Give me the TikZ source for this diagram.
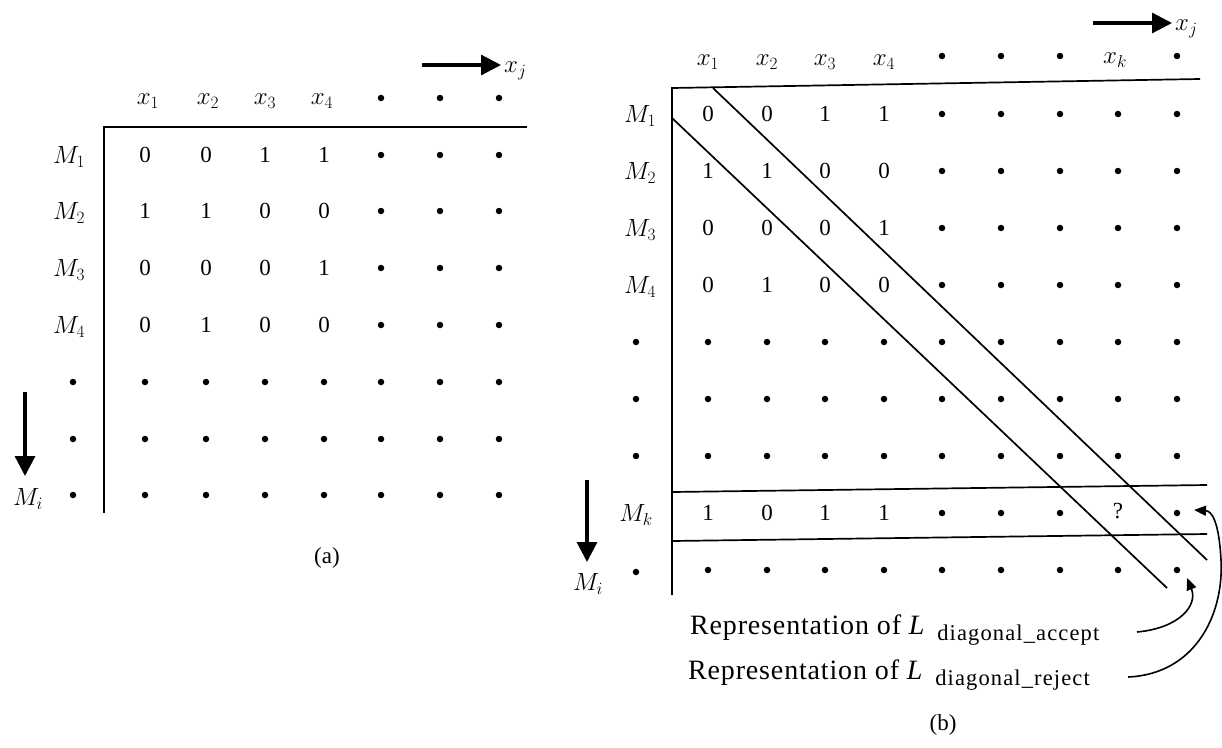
\documentclass[tikz,border=0pt]{standalone}
\usepackage{fontspec}
\setmainfont{Liberation Serif}
\usetikzlibrary{arrows.meta}
\begin{document}
\begin{tikzpicture}[x=1pt,y=-1pt,
  txt/.style={font=\fontsize{23}{26}\selectfont, inner sep=0pt},
  lbl/.style={font=\fontsize{28}{30}\selectfont\addfontfeature{LetterSpace=3}, inner sep=0pt, anchor=west},
  dot/.style={circle, fill=black, inner sep=0pt, minimum size=6.5pt},
  frameA/.style={line width=2.6pt},
  frameB/.style={line width=1.7pt},
  bigarrow/.style={line width=3.2pt, -{Triangle[length=20pt,width=20pt]}},
  curvearrow/.style={line width=1.6pt, -{Triangle[length=12pt,width=10pt]}},
]
\useasboundingbox (0,0) rectangle (1222,747);

% ---------------- panel (a) ----------------
\foreach \i/\x in {1/148,2/208,3/265,4/322} \node[txt] (ah\i) at (\x,101) {$x_{\i}$};
\foreach \x [count=\k from 5] in {381,440,499} \node[dot] (ah\k) at (\x,98) {};

\foreach \y/\a/\b/\c/\d [count=\r] in {155/0/0/1/1, 211/1/1/0/0, 268/0/0/0/1, 325/0/1/0/0}{
  \node[txt] (a\r-1) at (145,\y) {\a};
  \node[txt] (a\r-2) at (206,\y) {\b};
  \node[txt] (a\r-3) at (265,\y) {\c};
  \node[txt] (a\r-4) at (324,\y) {\d};
  \foreach \x [count=\k from 5] in {381,440,499} \node[dot] (a\r-\k) at (\x,\y) {};
}
\foreach \y [count=\r from 5] in {382,439,495}
  \foreach \x [count=\k] in {145,206,265,324,381,440,499}
    \node[dot] (a\r-\k) at (\x,\y) {};

\node[txt] (aM1) at (69,157) {$M_1$};
\node[txt] (aM2) at (69,213) {$M_2$};
\node[txt] (aM3) at (69,270) {$M_3$};
\node[txt] (aM4) at (69,327) {$M_4$};
\node[dot] (aM5) at (73,382) {};
\node[dot] (aM6) at (73,439) {};
\node[dot] (aM7) at (73,495) {};
\node[txt] (aMi) at (28,499) {$M_i$};

\coordinate (aTR) at (527,127);
\coordinate (aC) at (104,127);
\coordinate (aB) at (104,513);
\draw[frameA] (aTR) -- (aC) -- (aB);

\coordinate (aArS) at (422,65);
\coordinate (aArE) at (501,65);
\node[txt, anchor=west] (axj) at (504,71) {$x_j$};
\draw[bigarrow] (aArS) -- (aArE);
\coordinate (aDS) at (25,392);
\coordinate (aDE) at (25,476);
\draw[bigarrow] (aDS) -- (aDE);

\node[txt] (capA) at (327,558) {(a)};

% ---------------- panel (b) ----------------
\foreach \i/\x in {1/708,2/767,3/825,4/884} \node[txt] (bh\i) at (\x,62) {$x_{\i}$};
\foreach \x/\k in {942/5,1001/6,1060/7,1177/9} \node[dot] (bh\k) at (\x,56) {};
\node[txt] (bh8) at (1115,60) {$x_k$};

\foreach \y/\a/\b/\c/\d [count=\r] in {114/0/0/1/1, 171/1/1/0/0, 228/0/0/0/1, 285/0/1/0/0}{
  \node[txt] (b\r-1) at (708,\y) {\a};
  \node[txt] (b\r-2) at (767,\y) {\b};
  \node[txt] (b\r-3) at (825,\y) {\c};
  \node[txt] (b\r-4) at (884,\y) {\d};
  \foreach \x [count=\k from 5] in {942,1001,1060,1118,1177} \node[dot] (b\r-\k) at (\x,\y) {};
}
\foreach \y/\r in {342/5,399/6,456/7,570/9}
  \foreach \x [count=\k] in {708,767,825,884,942,1001,1060,1118,1177}
    \node[dot] (b\r-\k) at (\x,\y) {};
\node[txt] (b8-1) at (708,513) {1};
\node[txt] (b8-2) at (767,513) {0};
\node[txt] (b8-3) at (825,513) {1};
\node[txt] (b8-4) at (884,513) {1};
\foreach \x [count=\k from 5] in {942,1001,1060} \node[dot] (b8-\k) at (\x,513) {};
\node[txt] (b8-8) at (1118,511) {?};
\node[dot] (b8-9) at (1177,513) {};

\node[txt] (bM1) at (640,116) {$M_1$};
\node[txt] (bM2) at (640,173) {$M_2$};
\node[txt] (bM3) at (640,230) {$M_3$};
\node[txt] (bM4) at (640,287) {$M_4$};
\node[dot] (bM5) at (636,342) {};
\node[dot] (bM6) at (636,399) {};
\node[dot] (bM7) at (636,456) {};
\node[txt] (bMk) at (636,515) {$M_k$};
\node[dot] (bM9) at (636,572) {};
\node[txt] (bMi) at (588,584) {$M_i$};

\coordinate (bTR) at (1200,79);
\coordinate (bC) at (672,88);
\coordinate (bB) at (672,595);
\draw[frameB] (bTR) -- (bC) -- (bB);

\coordinate (bD1s) at (713,88);
\coordinate (bD1e) at (1207,560);
\coordinate (bD2s) at (672,118);
\coordinate (bD2e) at (1167,588);
\draw[frameB] (bD1s) -- (bD1e);
\draw[frameB] (bD2s) -- (bD2e);

\coordinate (bH1s) at (672,492);
\coordinate (bH1e) at (1207,485);
\coordinate (bH2s) at (672,541);
\coordinate (bH2e) at (1207,534);
\draw[frameB] (bH1s) -- (bH1e);
\draw[frameB] (bH2s) -- (bH2e);

\coordinate (bArS) at (1093,23);
\coordinate (bArE) at (1172,23);
\node[txt, anchor=west] (bxj) at (1175,29) {$x_j$};
\draw[bigarrow] (bArS) -- (bArE);
\coordinate (bDS) at (587,480);
\coordinate (bDE) at (587,562);
\draw[bigarrow] (bDS) -- (bDE);

\node[lbl] (acc) at (690,630) {Representation of \textit{L}\hspace{12pt}\raisebox{-0.4ex}{\fontsize{22.5}{24}\selectfont\addfontfeature{LetterSpace=5}diagonal\_accept}};
\node[lbl] (rej) at (688,675) {Representation of \textit{L}\hspace{12pt}\raisebox{-0.4ex}{\fontsize{22.5}{24}\selectfont\addfontfeature{LetterSpace=5}diagonal\_reject}};
\coordinate (accS) at (1137,632);
\coordinate (rejS) at (1128,677);
\coordinate (accTip) at (1187,578);
\coordinate (rejTip) at (1194,510);
\draw[curvearrow] (accS) .. controls (1180,628) and (1198,605) .. (accTip);
\draw[curvearrow] (rejS) .. controls (1195,674) and (1224,615) .. (1221,560) .. controls (1219,522) and (1212,511) .. (rejTip);

\node[txt] (capB) at (943,725) {(b)};
\end{tikzpicture}
\end{document}
